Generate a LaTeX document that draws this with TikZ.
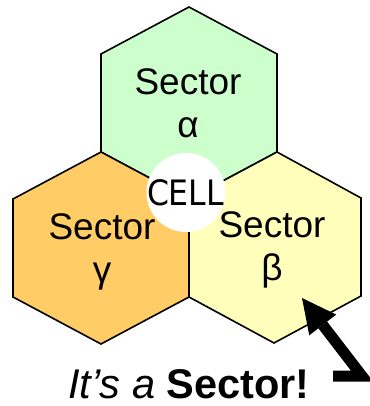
\documentclass[tikz,border=0pt]{standalone}
\usepackage{fontspec}
\setmainfont{Liberation Sans}
\newfontfamily\cellfont{DejaVu Sans}
\usetikzlibrary{arrows.meta}

\definecolor{alphafill}{HTML}{CCFFCC}
\definecolor{gammafill}{HTML}{FFCC66}
\definecolor{betafill}{HTML}{FFFFBB}

\tikzset{
  hexcell/.style={draw=black, line width=1.6pt, line join=miter},
  sectorlbl/.style={anchor=base, inner sep=0pt, font=\fontsize{37}{43}\selectfont},
  pointer/.style={line width=11pt, line join=miter,
    -{Triangle[length=34pt, width=34pt, line width=0pt]}},
}

\begin{document}
\begin{tikzpicture}[x=1pt, y=-1pt]
  \useasboundingbox (0,0) rectangle (369,406);

  % three sector hexagons
  \path[hexcell, fill=alphafill]
    (189,7) -- (277,54) -- (277,152) -- (189,199) -- (101,152) -- (101,54) -- cycle;
  \path[hexcell, fill=gammafill]
    (101,152) -- (189,199) -- (189,297) -- (101,344) -- (13,297) -- (13,199) -- cycle;
  \path[hexcell, fill=betafill]
    (277,152) -- (361,198) -- (361,296) -- (274,343) -- (189,297) -- (189,199) -- cycle;

  % cell site in the middle
  \fill[white] (186,192.5) circle[radius=39.5pt];
  \node[anchor=base, inner sep=0pt, font=\cellfont\fontsize{35}{35}\selectfont]
    (cell) at (185.5,205.5) {\scalebox{0.9}[1]{CELL}};

  % sector labels
  \node[sectorlbl] (alphaA) at (188,95)  {Sector};
  \node[sectorlbl] (alphaB) at (188,138) {α};
  \node[sectorlbl] (gammaA) at (102,239) {Sector};
  \node[sectorlbl] (gammaB) at (102,282) {γ};
  \node[sectorlbl] (betaA)  at (272,237) {Sector};
  \node[sectorlbl] (betaB)  at (272,280) {β};

  % caption with its pointer
  \node[anchor=base, inner sep=0pt, font=\fontsize{41.5}{41.5}\selectfont]
    (caption) at (189,398) {\textit{It’s a} \textbf{Sector!}};
  \coordinate (tail) at (333,376);
  \coordinate (bend) at (362,376);
  \coordinate (tip)  at (302,298);
  \draw[pointer] (tail) -- (bend) -- (tip);
\end{tikzpicture}
\end{document}
